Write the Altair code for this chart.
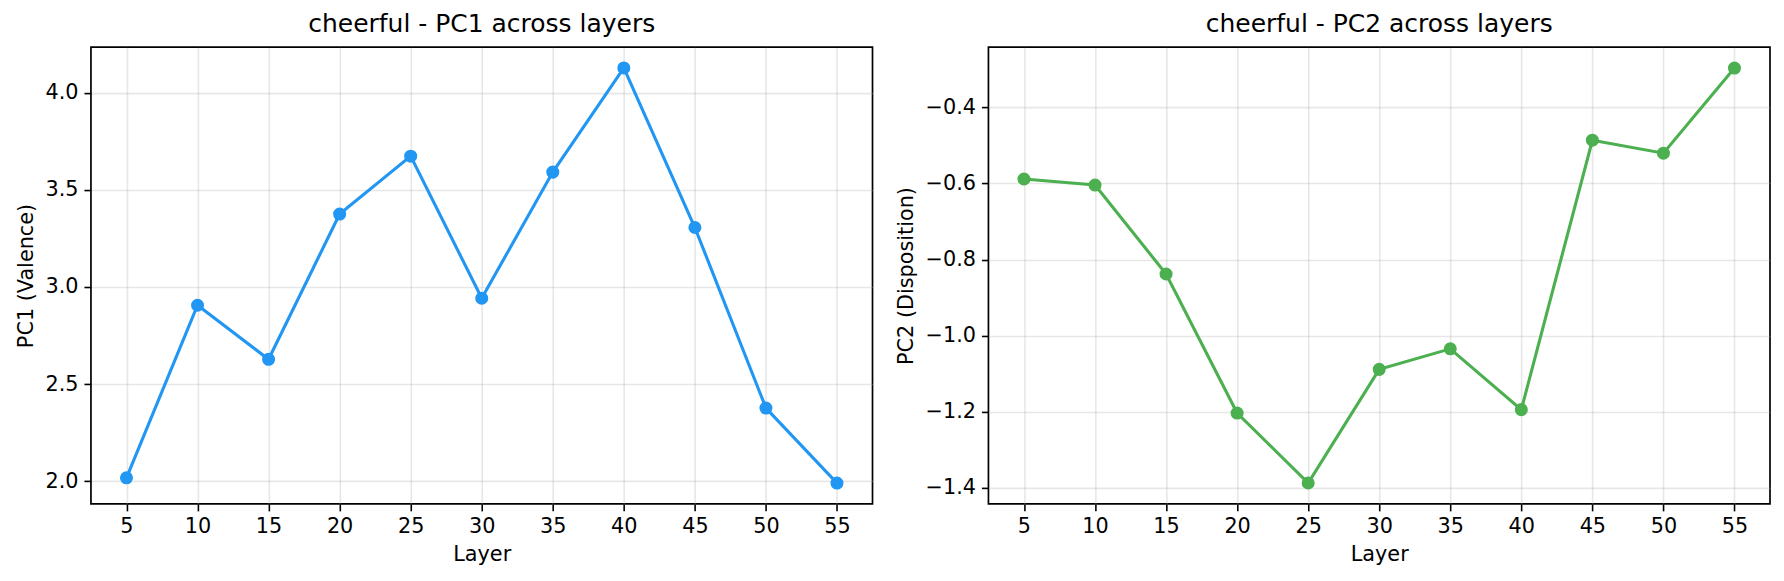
import altair as alt
import pandas as pd

layers = [5, 10, 15, 20, 25, 30, 35, 40, 45, 50, 55]
pc1 = [2.018, 2.906, 2.628, 3.375, 3.673, 2.942, 3.591, 4.127, 3.306, 2.377, 1.991]
pc2 = [-0.588, -0.604, -0.838, -1.204, -1.388, -1.089, -1.035, -1.195, -0.486, -0.520, -0.296]

pc1_ticks = [2.0, 2.5, 3.0, 3.5, 4.0]
pc2_ticks = [-1.4, -1.2, -1.0, -0.8, -0.6, -0.4]

df1 = pd.DataFrame({"Layer": layers, "v": pc1})
df2 = pd.DataFrame({"Layer": layers, "v": pc2})

W, H = 782, 457
FS = 20.8


def panel(df, title, ytitle, color, ydom, yticks):
    x = alt.X("Layer:Q", title="Layer",
              scale=alt.Scale(domain=[2.5, 57.5], nice=False, zero=False),
              axis=alt.Axis(values=layers, format="d"))
    y = alt.Y("v:Q", title=ytitle,
              scale=alt.Scale(domain=ydom, nice=False, zero=False),
              axis=alt.Axis(values=yticks, format=".1f"))
    base = alt.Chart(df).encode(x=x, y=y)
    line = base.mark_line(color=color, strokeWidth=3.1)
    pts = base.mark_point(color=color, filled=True, opacity=1, size=170, shape="circle")
    return alt.layer(line, pts).properties(
        width=W, height=H,
        title=alt.TitleParams(title, fontSize=25, fontWeight="normal",
                              font="DejaVu Sans", color="black", offset=10),
    )


left = panel(df1, "cheerful - PC1 across layers", "PC1 (Valence)", "#2196F3",
             [1.884, 4.234], pc1_ticks)
right = panel(df2, "cheerful - PC2 across layers", "PC2 (Disposition)", "#4CAF50",
              [-1.443, -0.241], pc2_ticks)

chart = alt.hconcat(left, right, spacing=21).properties(
    padding={"left": 7, "right": 5, "top": 3, "bottom": 5},
    background="white",
).configure_view(
    stroke="black", strokeWidth=1.7
).configure_axis(
    domain=False,
    labelFont="DejaVu Sans", titleFont="DejaVu Sans",
    labelFontSize=FS, titleFontSize=FS,
    labelColor="black", titleColor="black",
    titleFontWeight="normal",
    tickColor="black", tickSize=7, tickWidth=1.6,
    labelPadding=6, titlePadding=8,
    gridColor="#b0b0b0", gridOpacity=0.3, gridWidth=1.6,
)

chart.save("out.html", embed_options={"renderer": "svg", "actions": False})
